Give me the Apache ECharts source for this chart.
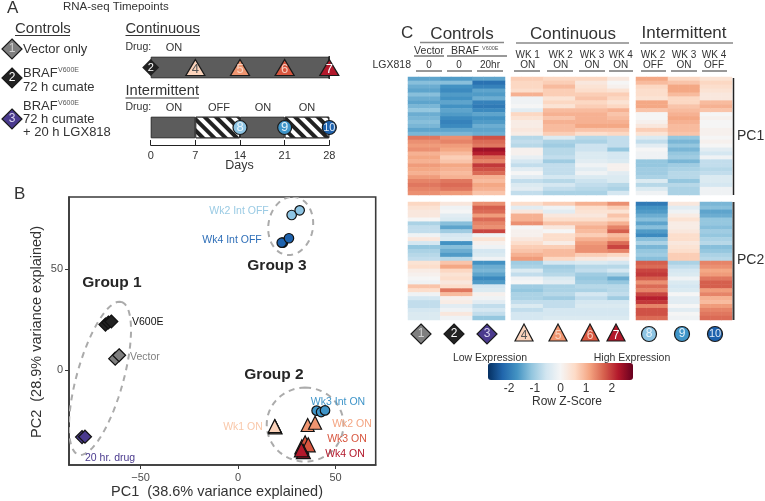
<!DOCTYPE html>
<html>
<head>
<meta charset="utf-8">
<script src="https://cdn.jsdelivr.net/npm/echarts@6/dist/echarts.min.js"></script>
<style>html,body{margin:0;padding:0;background:#fff}#c{width:765px;height:501px}</style>
</head>
<body>
<div id="c"></div>
<script>
// ---------- Panel A: timeline ----------
var timelineRows = ['Intermittent', 'Continuous'];
var timelineOn1 = [7, 28];
var timelineOff1 = [7, 0];
var timelineOn2 = [7, 0];
var timelineOff2 = [7, 0];
var timelineTicks = [0, 7, 14, 21, 28];
var continuousMarks = [[7, '4'], [14, '5'], [21, '6'], [28, '7']];
var intermittentMarks = [[14, '8'], [21, '9'], [28, '10']];

// ---------- Panel B: PCA ----------
var pcaVector = [[-63, 5.6], [-61, 7.3]];
var pcaV600E = [[-68, 22.5], [-66.5, 23.5], [-65, 24]];
var pcaDrug20h = [[-80, -33.2], [-78.5, -33]];
var pcaWk1On = [[19, -28], [19.2, -28.4], [18.8, -27.8]];
var pcaWk2On = [[35.7, -27.2], [39.5, -26.1]];
var pcaWk3On = [[32.7, -38], [34.4, -36], [36, -37]];
var pcaWk4On = [[33.5, -40.4], [32.5, -39.5]];
var pcaWk2Off = [[27.5, 76.7], [31.6, 79]];
var pcaWk3IntOn = [[40.3, -20.1], [42.6, -20.8], [44.6, -20]];
var pcaWk4Off = [[23, 63], [22.4, 63], [26.1, 65.2]];
// centre x, centre y, major axis vector x/y, minor axis vector x/y
var groupEllipses = [
  [-70.8, -4.1, 11, 37.8, 11.5, -3.1],
  [34.4, -27, 0, 18.3, 19.7, 0],
  [27, 71.3, 1, 14.4, 11.5, 0]
];

// ---------- Panel C: heatmap z-scores, 30 rows each ----------
var pc1Vector = [-1.5,-1.2,-1.4,-1.5,-1.2,-1.4,-1.5,-1.3,-1.1,-1.4,-1.3,-1.2,-1.3,-1.5,-1.3, 1.5,1.3,1.2,1.3,1.0,1.1,1.0,1.2,1.1,1.0,1.2,1.4,1.5,1.4,1.3];
var pc1Braf = [-1.6,-1.2,-1.7,-1.8,-1.6,-1.7,-1.5,-1.7,-1.5,-1.6,-1.8,-1.9,-1.8,-1.5,-1.3, 1.3,1.4,1.2,1.1,0.9,0.7,0.8,1.1,1.0,0.9,1.0,1.5,1.6,1.5,1.2];
var pc1Drug20h = [-1.5,-2.1,-1.9,-1.5,-1.6,-1.4,-1.9,-2.0,-1.8,-1.5,-1.7,-1.6,-1.4,-1.5,-1.4, 1.8,1.6,1.5,2.4,2.2,1.6,1.4,2.0,1.8,1.6,1.0,0.9,1.1,1.0,0.8];
var pc1Wk1On = [0.7,0.6,0.6,0.5,1.0,-0.1,-0.1,0,-0.3,0.6,0.4,0.2,0.2,0.3,0.2, -0.8,-0.7,-0.8,0.1,0.1,-0.2,-0.5,-0.7,-0.3,0,-0.3,-0.7,-0.4,-0.3,-0.7];
var pc1Wk2On = [0.6,0.7,0.9,0.7,0.7,0.4,0.6,0.4,0.9,1.0,0.8,1.0,0.9,0.9,0.7, -0.4,-0.9,-1.0,-0.8,-0.8,-0.7,-1.0,-0.7,-0.7,-0.7,-0.5,-0.8,-0.5,-0.7,-0.9];
var pc1Wk3On = [0.6,0.3,0.4,0.5,0.7,0.8,0.6,0.7,0.9,1.0,1.0,1.0,1.1,0.8,0.5, -0.8,-0.9,-0.6,-0.6,-0.4,-0.4,-0.3,-0.1,-0.3,-0.1,-0.4,-0.6,-0.7,-0.8,-0.9];
var pc1Wk4On = [0.3,0.0,0.1,0.4,0.7,0.6,0.4,0.6,1.0,0.8,0.9,1.0,1.1,0.8,0.6, -0.7,-0.7,-0.7,-1.1,-0.5,-0.5,-0.4,0.1,0.1,-0.3,-0.4,-0.4,-0.8,-0.9,-0.5];
var pc1IntWk2 = [1.1,0.9,0.6,0.5,0.5,0.4,1.1,1.1,0.8,0,0,0.1,0.3,0.7,0.4, -0.4,-0.7,-0.3,0,-0.1,-0.1,-1.1,-1.1,-1.0,-1.0,-0.9,-0.4,-0.8,-0.4,-0.1];
var pc1IntWk3 = [0.6,0.8,1.1,1.1,0.9,0.6,0.6,0.8,0.9,1.0,1.1,1.0,0.9,0.9,0.8, -1.1,-1.3,-1.1,-1.3,-1.1,-1.0,-1.3,-1.0,-0.9,-0.8,-0.8,-1.1,-0.8,-0.9,-0.9];
var pc1IntWk4 = [0.4,0.6,0.5,0.4,0.3,0.3,0.9,1.0,0.8,0,0.1,0,0,0.1,0.1, 0,0.1,0,-0.3,-0.5,-0.1,-0.7,-0.7,-0.8,-0.7,-0.4,-0.4,-0.5,-0.1,-0.1];

var pc2Vector = [0.6,0.4,0.3,0.3,0.0,-0.9,-0.7,-0.7,-0.1,0.3,-0.5,-1.1,-0.9,-0.8,-0.7, 0.4,0.5,0.2,0.1,0.0,-0.1,0.8,0.5,-0.1,-0.5,-0.7,-0.7,-0.5,-0.4,-0.4];
var pc2Braf = [0.3,-0.1,0.0,-0.3,-0.4,-1.2,-1.5,-1.0,-0.5,-0.4,-1.7,-1.2,-1.4,-1.6,-0.8, 0.8,1.1,0.6,0.4,0.5,0.3,0.5,1.5,0.9,0.1,0.2,-0.3,-0.1,0.3,-0.1];
var pc2Drug20h = [1.3,1.7,1.6,1.2,1.6,1.4,1.3,1.9,-0.1,0.4,0.1,-0.1,-0.5,-0.4,-0.1, -1.7,-1.4,-1.3,-1.5,-1.8,-1.6,-0.5,-0.4,0.1,-0.1,-0.3,-0.7,-0.5,-0.7,-1.1];
var pc2Wk1On = [0.5,-0.3,0.3,1.0,1.0,1.3,0,0.1,0.1,0.3,0.5,0.7,0.8,1.0,1.2, -1.0,-0.9,-0.4,-0.7,-0.1,0,-1.0,-1.1,-0.9,-0.9,-0.7,-0.4,-0.7,-0.5,-0.5];
var pc2Wk2On = [0.7,-0.1,-0.3,0.3,0.5,0.8,0.3,0,0.5,0.5,0.2,0.7,0.9,0.9,0.6, -0.5,-1.0,-0.9,-0.8,-0.4,-0.3,-0.9,-0.9,-0.8,-1.0,-0.7,-0.7,-0.5,-0.5,-0.4];
var pc2Wk3On = [1.0,0.5,0.4,0.3,0.5,0.8,1.0,0.9,0.7,1.0,1.2,1.3,1.3,0.7,0.3, -0.4,-0.8,-0.7,-1.0,-1.1,-1.0,-0.8,-0.9,-0.5,-0.7,-0.5,-0.4,-0.5,-0.5,-0.4];
var pc2Wk4On = [1.3,0.7,0.4,0.8,0.6,1.0,1.4,1.7,0.9,1.1,1.6,1.9,1.4,0.6,0.2, -0.5,-0.8,-0.5,-0.9,-1.4,-1.1,-0.8,-0.8,-0.7,-1.0,-0.5,-0.4,-0.5,-0.5,-0.4];
var pc2IntWk2 = [-2.0,-1.7,-1.6,-1.4,-1.2,-1.5,-1.2,-1.6,-1.8,-1.2,-0.9,-1.3,-1.1,-1.0,-1.2, 1.7,1.6,1.9,2.0,1.7,1.3,1.6,1.4,1.9,2.2,2.0,1.4,1.8,1.8,1.6];
var pc2IntWk3 = [0.3,-0.3,-0.1,0.2,0.4,0.2,0.2,0.3,0.5,0.5,0.3,0.4,0.5,0.7,0.7, -0.9,-0.7,-0.5,-0.4,-0.1,-0.4,-0.5,-0.4,0,-0.3,-0.3,0,-0.3,0,-0.1];
var pc2IntWk4 = [-1.3,-1.2,-1.5,-1.4,-1.1,-1.1,-1.2,-1.0,-1.1,-0.9,-0.8,-1.2,-1.1,-0.9,-0.8, 1.4,1.3,1.1,1.2,1.5,1.7,1.7,1.2,1.4,1.0,0.9,1.2,1.4,1.5,1.6];

var rowScaleTicks = [-2, -1, 0, 1, 2];

// ---------- colours ----------
var rdbu = ['#053061','#2166ac','#4393c3','#92c5de','#d1e5f0','#f5f5f5','#fddbc7','#f4a582','#d6604d','#b2182b','#67001f'];
var C = {c1:'#7f7f7f',c2:'#222222',c3:'#4a3a8e',c4:'#fbd3bb',c5:'#ef9570',c6:'#d8563f',c7:'#b2182b',c8:'#8ec5e4',c9:'#3f95c9',c10:'#1e62ad'};
var FONT = '"Liberation Sans", Arial, sans-serif';
var INK = '#333333';

// ---------- graphic helpers ----------
var g = [];
function t(text, x, y, size, o) {
  o = o || {};
  g.push({type:'text', x:x, y:y, z:100, silent:true, rotation:o.rot||0, style:{
    text:text, fontFamily:FONT, fontSize:size, fontWeight:o.bold?'bold':'normal',
    textAlign:o.align||'left', textVerticalAlign:'middle', fill:o.color||INK}});
}
function hl(x1, x2, y, color, w) {
  g.push({type:'line', z:100, silent:true, shape:{x1:x1,y1:y,x2:x2,y2:y}, style:{stroke:color||INK,lineWidth:w||1}});
}
function vl(x, y1, y2, color, w) {
  g.push({type:'line', z:100, silent:true, shape:{x1:x,y1:y1,x2:x,y2:y2}, style:{stroke:color||INK,lineWidth:w||1}});
}
function icon(kind, x, y, fill, label, labelColor) {
  var st = {fill:fill, stroke:'#1a1a1a', lineWidth:1.2};
  if (kind === 'd') {
    var r = 10;
    g.push({type:'polygon', z:99, silent:true, shape:{points:[[x,y-r],[x+r,y],[x,y+r],[x-r,y]]}, style:st});
  } else if (kind === 't') {
    g.push({type:'polygon', z:99, silent:true, shape:{points:[[x,y-10],[x+9,y+7],[x-9,y+7]]}, style:st});
  } else {
    g.push({type:'circle', z:99, silent:true, shape:{cx:x,cy:y,r:7.5}, style:st});
  }
  t(label, x, kind==='t'?y+1.5:y, label==='10'?11:12, {align:'center', color:labelColor});
}

// Panel A text
t('A', 7, 8, 17);
t('RNA-seq Timepoints', 63, 7, 11.5);
t('Controls', 15, 29, 15); hl(15, 70, 35.5);
t('Continuous', 125.5, 29, 14.7); hl(125.5, 200, 35.5);
t('Drug:', 125.5, 47, 10.5); t('ON', 174, 48, 11, {align:'center'});
t('Intermittent', 125.5, 91, 14.7); hl(125.5, 199, 98);
t('Drug:', 125.5, 107, 10.5);
t('ON', 174, 108, 11, {align:'center'}); t('OFF', 219, 108, 11, {align:'center'});
t('ON', 263, 108, 11, {align:'center'}); t('ON', 307, 108, 11, {align:'center'});
t('Days', 239.5, 166, 12.5, {align:'center'});
icon('d', 12, 49, C.c1, '1', '#d0d0d0');
t('Vector only', 23, 49, 13);
icon('d', 12, 78, C.c2, '2', '#ffffff');
t('BRAF', 23, 73, 13); t('V600E', 58, 70.5, 7, {color:'#555'});
t('72 h cumate', 23, 87, 13);
icon('d', 12, 119, C.c3, '3', '#d8d4ee');
t('BRAF', 23, 106, 13); t('V600E', 58, 103.5, 7, {color:'#555'});
t('72 h cumate', 23, 119, 13);
t('+ 20 h LGX818', 23, 132, 13);

// Panel B text
t('B', 14, 194, 17);
t('PC1  (38.6% variance explained)', 217, 492, 14.5, {align:'center'});
t('PC2  (28.9% variance explained)', 37, 332, 14.5, {align:'center', rot:Math.PI/2});
t('Wk2 Int OFF', 239, 211, 10.5, {align:'center', color:'#9bcbe4'});
t('Wk4 Int OFF', 232, 240, 10.5, {align:'center', color:'#2f6fb8'});
t('Group 3', 277, 266, 15.5, {align:'center', bold:true, color:'#262626'});
t('Group 1', 112, 283, 15.5, {align:'center', bold:true, color:'#262626'});
t('Group 2', 274, 375, 15.5, {align:'center', bold:true, color:'#262626'});
t('V600E', 132, 322, 10.5, {color:'#111'});
t('Vector', 130, 357, 10.5, {color:'#808080'});
t('20 hr. drug', 85, 458, 10.5, {color:C.c3});
t('Wk3 Int ON', 338, 402, 10.5, {align:'center', color:C.c9});
t('Wk2 ON', 352, 424, 10.5, {align:'center', color:'#f4a582'});
t('Wk1 ON', 243, 427, 10.5, {align:'center', color:'#f9c8aa'});
t('Wk3 ON', 347, 439.5, 10.5, {align:'center', color:C.c6});
t('Wk4 ON', 345, 454, 10.5, {align:'center', color:C.c7});

// Panel C text
t('C', 401, 33, 17);
t('Controls', 462, 34, 17, {align:'center'}); hl(420, 504, 42.5, '#888', 1.5);
t('Continuous', 573, 34, 17, {align:'center'}); hl(516, 629, 43, '#888', 1.5);
t('Intermittent', 684, 33.5, 17, {align:'center'}); hl(640, 733, 43, '#888', 1.5);
t('Vector', 429, 51, 10.5, {align:'center'}); hl(414, 444, 56);
t('BRAF', 465, 51, 10.5, {align:'center'}); t('V600E', 482, 48.5, 5.5, {color:'#555'}); hl(447, 507, 56);
t('LGX818', 411, 65, 10.5, {align:'right'});
var subHead = [[429,'0',416,442],[459,'0',447,472],[490,'20hr',477,503]];
subHead.forEach(function(s){ t(s[1], s[0], 65, 10, {align:'center'}); hl(s[2], s[3], 71); });
var wkHead = [
  [527.7,'WK 1','ON',514,540],[560.7,'WK 2','ON',547,573],[592,'WK 3','ON',579,605],[620.7,'WK 4','ON',609,633],
  [653,'WK 2','OFF',641,666],[684,'WK 3','ON',671,697],[714,'WK 4','OFF',702,727]];
wkHead.forEach(function(s){
  t(s[1], s[0], 55, 10, {align:'center'}); t(s[2], s[0], 65, 10, {align:'center'}); hl(s[3], s[4], 71);
});
vl(733.5, 78, 195, '#222', 1.5); t('PC1', 737, 136, 14);
vl(733.5, 202, 320, '#333', 2); t('PC2', 737, 260, 14);
icon('d', 421, 334, C.c1, '1', '#d0d0d0');
icon('d', 454, 334, C.c2, '2', '#ffffff');
icon('d', 487, 334, C.c3, '3', '#d8d4ee');
icon('t', 524, 334, C.c4, '4', '#555');
icon('t', 558, 334, C.c5, '5', '#f9d3c0');
icon('t', 590, 334, C.c6, '6', '#f7cdbf');
icon('t', 616, 334, C.c7, '7', '#ffffff');
icon('c', 649, 334, C.c8, '8', '#e8f4fb');
icon('c', 682, 334, C.c9, '9', '#e0f0fa');
icon('c', 715, 334, C.c10, '10', '#e0ebf7');
t('Low Expression', 490, 358, 10.5, {align:'center'});
t('High Expression', 632, 358, 10.5, {align:'center'});
t('Row Z-Score', 567, 402, 12, {align:'center'});

// ---------- grids, axes, series ----------
var grids = [], xAxes = [], yAxes = [], series = [];
var hidden = {show:false};

// Panel A
grids.push({left:150.7, top:37.5, width:178.6, height:120});
xAxes.push({gridIndex:0, type:'value', min:0, max:28, interval:7, offset:-12.5, splitLine:hidden,
  axisLine:{show:true,onZero:false,lineStyle:{color:'#222',width:1}}, axisTick:{show:true,inside:true,length:5,lineStyle:{color:'#222'}},
  axisLabel:{color:INK,fontSize:11,fontFamily:FONT,margin:5,customValues:timelineTicks}});
yAxes.push({gridIndex:0, type:'category', data:timelineRows, show:false});
var onStyle = {color:'#5c5c5c', borderColor:'#2a2a2a', borderWidth:1};
var offStyle = {color:'#ffffff', borderColor:'#2a2a2a', borderWidth:1,
  decal:{symbol:'rect', color:'#222222', backgroundColor:'#ffffff', dashArrayX:[1,0], dashArrayY:[3.4,3.4], rotation:Math.PI/4, symbolSize:1}};
[[timelineOn1,onStyle],[timelineOff1,offStyle],[timelineOn2,onStyle],[timelineOff2,offStyle]].forEach(function(s){
  series.push({type:'bar', xAxisIndex:0, yAxisIndex:0, stack:'tl', barWidth:21.6, data:s[0], itemStyle:s[1], silent:true});
});
var markColors = {'4':[C.c4,'#555'],'5':[C.c5,'#f9d3c0'],'6':[C.c6,'#f7cdbf'],'7':[C.c7,'#ffffff'],'8':[C.c8,'#e8f4fb'],'9':[C.c9,'#e0f0fa'],'10':[C.c10,'#e0ebf7']};
function timelineMark(m, row, sym, size) {
  series.push({type:'scatter', xAxisIndex:0, yAxisIndex:0, symbol:sym, symbolSize:size, z:5, silent:true,
    data:[[m[0], row]],
    itemStyle:{color:markColors[m[1]][0], borderColor:'#1a1a1a', borderWidth:1.2, opacity:1},
    label:{show:true, position:'inside', offset:[0,sym==='triangle'?2:0], formatter:m[1], color:markColors[m[1]][1], fontSize:m[1]==='10'?11:13, fontFamily:FONT}});
}
continuousMarks.forEach(function(m){ timelineMark(m, 'Continuous', 'triangle', [19,16]); });
intermittentMarks.forEach(function(m){ timelineMark(m, 'Intermittent', 'circle', 14); });
series.push({type:'scatter', xAxisIndex:0, yAxisIndex:0, symbol:'diamond', symbolSize:17, z:5, silent:true,
  data:[[0,'Continuous']], itemStyle:{color:C.c2, opacity:1},
  label:{show:true, position:'inside', formatter:'2', color:'#fff', fontSize:11, fontFamily:FONT}});

// Panel B
grids.push({left:69, top:197, width:306.7, height:268, show:true, borderColor:'#3a3a3a', borderWidth:1.6, backgroundColor:'#fff'});
var axisLineB = {show:true, onZero:false, lineStyle:{color:'#3a3a3a',width:1.6}};
var tickB = {show:true, length:4, lineStyle:{color:'#3a3a3a'}};
var labelB = {color:'#4d4d4d', fontSize:11, fontFamily:FONT};
xAxes.push({gridIndex:1, type:'value', min:-86.7, max:70.6, splitLine:hidden, axisLine:axisLineB,
  axisTick:Object.assign({},tickB,{customValues:[-50,0,50]}),
  axisLabel:Object.assign({},labelB,{margin:7,customValues:[-50,0,50],formatter:function(v){return String(v).replace('-','\u2212');}})});
yAxes.push({gridIndex:1, type:'value', min:-47, max:85.6, splitLine:hidden, axisLine:axisLineB,
  axisTick:Object.assign({},tickB,{customValues:[0,50]}),
  axisLabel:Object.assign({},labelB,{margin:6,customValues:[0,50]})});
series.push({type:'custom', xAxisIndex:1, yAxisIndex:1, coordinateSystem:'cartesian2d', z:2, silent:true, clip:true,
  data:groupEllipses,
  encode:{x:0,y:1},
  renderItem:function(params, api){
    var p = [], n = 72;
    for (var i = 0; i <= n; i++) {
      var a = i/n*2*Math.PI, ca = Math.cos(a), sa = Math.sin(a);
      p.push(api.coord([api.value(0)+ca*api.value(2)+sa*api.value(4), api.value(1)+ca*api.value(3)+sa*api.value(5)]));
    }
    return {type:'polyline', shape:{points:p}, style:{stroke:'#ababab', lineWidth:2, lineDash:[6,5], fill:null}};
  }});
function pca(data, sym, size, color) {
  series.push({type:'scatter', xAxisIndex:1, yAxisIndex:1, symbol:sym, symbolSize:size, z:3, silent:true, data:data,
    itemStyle:{color:color, borderColor:'#111', borderWidth:1.2, opacity:1}});
}
pca(pcaVector,'diamond',13,C.c1);
pca(pcaV600E,'diamond',13,C.c2);
pca(pcaDrug20h,'diamond',13,C.c3);
pca(pcaWk1On,'triangle',13,C.c4);
pca(pcaWk2On,'triangle',13,C.c5);
pca(pcaWk3On,'triangle',14,C.c6);
pca(pcaWk4On,'triangle',14,C.c7);
pca(pcaWk2Off,'circle',9.5,C.c8);
pca(pcaWk3IntOn,'circle',9.5,C.c9);
pca(pcaWk4Off,'circle',9.5,C.c10);

// Panel C heatmaps: one cell block per group of conditions
var rowIndex = pc1Vector.map(function(_, i){ return i; });
var heatIdx = [];
function heatBlock(left, width, top, height, columns, reps) {
  var gi = grids.length, cols = [], data = [];
  columns.forEach(function(col, c){
    for (var r = 0; r < reps[c]; r++) {
      col.forEach(function(v, row){ data.push([cols.length, row, v]); });
      cols.push(c + '_' + r);
    }
  });
  grids.push({left:left, top:top, width:width, height:height});
  xAxes.push({gridIndex:gi, type:'category', data:cols, show:false});
  yAxes.push({gridIndex:gi, type:'category', data:rowIndex, inverse:true, show:false});
  heatIdx.push(series.length);
  series.push({type:'heatmap', xAxisIndex:gi, yAxisIndex:gi, data:data, silent:true, itemStyle:{borderWidth:0}, emphasis:{disabled:true}});
}
heatBlock(408, 97, 77, 118, [pc1Vector,pc1Braf,pc1Drug20h], [3,3,3]);
heatBlock(511, 118, 77, 118, [pc1Wk1On,pc1Wk2On,pc1Wk3On,pc1Wk4On], [3,3,3,2]);
heatBlock(636, 96, 77, 118, [pc1IntWk2,pc1IntWk3,pc1IntWk4], [3,3,3]);
heatBlock(408, 97, 202, 118, [pc2Vector,pc2Braf,pc2Drug20h], [3,3,3]);
heatBlock(511, 118, 202, 118, [pc2Wk1On,pc2Wk2On,pc2Wk3On,pc2Wk4On], [3,3,3,2]);
heatBlock(636, 96, 202, 118, [pc2IntWk2,pc2IntWk3,pc2IntWk4], [3,3,3]);

// colour scale axis
var gc = grids.length;
grids.push({left:483.4, top:363, width:154.2, height:17});
xAxes.push({gridIndex:gc, type:'value', min:-3, max:3, interval:1, splitLine:hidden, axisLine:hidden, axisTick:hidden,
  axisLabel:{color:INK,fontSize:12,fontFamily:FONT,margin:3,
    customValues:rowScaleTicks}});
yAxes.push({gridIndex:gc, type:'value', show:false, min:0, max:1});
series.push({type:'scatter', xAxisIndex:gc, yAxisIndex:gc, data:[], silent:true});

var chart = echarts.init(document.getElementById('c'), null, {renderer:'canvas'});
chart.setOption({
  animation:false,
  backgroundColor:'#ffffff',
  textStyle:{fontFamily:FONT},
  grid:grids, xAxis:xAxes, yAxis:yAxes, series:series,
  visualMap:{type:'continuous', seriesIndex:heatIdx, min:-2.82, max:2.82, calculable:false, realtime:false, hoverLink:false,
    orient:'horizontal', left:488, top:363, itemWidth:17, itemHeight:145, padding:0, text:null, showLabel:false,
    inRange:{color:rdbu}},
  graphic:{elements:g}
});
</script>
</body>
</html>
